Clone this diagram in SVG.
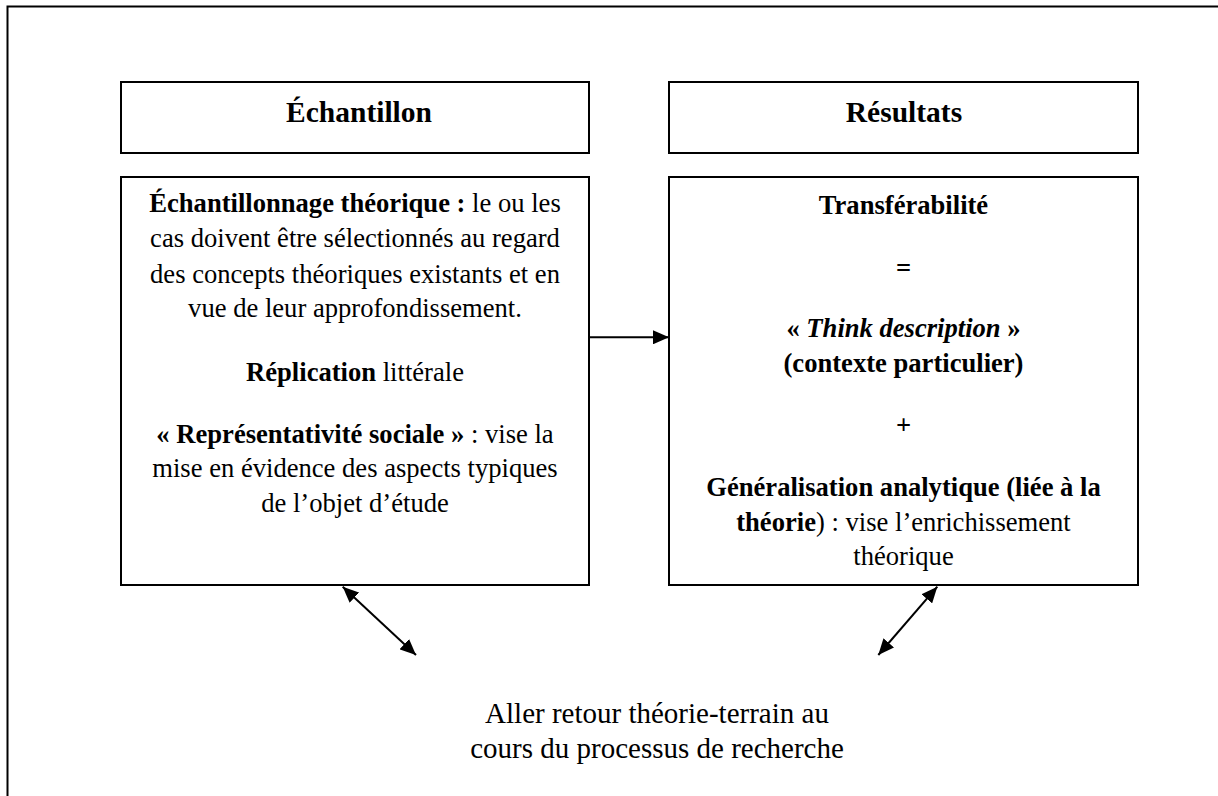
<svg xmlns="http://www.w3.org/2000/svg" width="1218" height="796" viewBox="0 0 1218 796">
<defs>
<style>
.box{fill:#fff;stroke:#000;stroke-width:2}
.frame{fill:none;stroke:#000;stroke-width:2}
.t{font-family:"Liberation Serif","Times New Roman",serif;font-size:26.6px;fill:#000;text-anchor:middle}
.h{font-family:"Liberation Serif","Times New Roman",serif;font-size:29.5px;font-weight:bold;fill:#000;text-anchor:middle}
.f{font-family:"Liberation Serif","Times New Roman",serif;font-size:29px;fill:#000;text-anchor:middle}
.b{font-weight:bold}
.bi{font-weight:bold;font-style:italic}
.c{stroke:#000;stroke-width:2;fill:none}
</style>
<marker id="ah" markerWidth="16" markerHeight="14" refX="16" refY="7" orient="auto-start-reverse" markerUnits="userSpaceOnUse">
<path d="M0,0 L16,7 L0,14 Z" fill="#000"/>
</marker>
</defs>
<rect width="1218" height="796" fill="#fff"/>
<rect class="frame" x="7.5" y="6.5" width="1300" height="900"/>

<g id="echantillon-titre">
<rect class="box" x="121" y="82" width="468" height="71"/>
<text class="h" x="359" y="122">Échantillon</text>
</g>
<g id="resultats-titre">
<rect class="box" x="669" y="82" width="469" height="71"/>
<text class="h" x="904" y="122">Résultats</text>
</g>

<g id="echantillon">
<rect class="box" x="121" y="177" width="468" height="408"/>
<text class="t" x="355" y="212.3"><tspan class="b">Échantillonnage théorique :</tspan> le ou les</text>
<text class="t" x="355" y="247.3">cas doivent être sélectionnés au regard</text>
<text class="t" x="355" y="282.5">des concepts théoriques existants et en</text>
<text class="t" x="355" y="316.7">vue de leur approfondissement.</text>
<text class="t" x="355" y="380.7"><tspan class="b">Réplication</tspan> littérale</text>
<text class="t" x="355" y="442.7"><tspan class="b">« Représentativité sociale »</tspan> : vise la</text>
<text class="t" x="355" y="476.7">mise en évidence des aspects typiques</text>
<text class="t" x="355" y="511.7">de l’objet d’étude</text>
</g>

<g id="resultats">
<rect class="box" x="669" y="177" width="469" height="408"/>
<text class="t b" x="903.5" y="214">Transférabilité</text>
<text class="t b" x="903.5" y="277">=</text>
<text class="t" x="903.5" y="336.7"><tspan class="b">« </tspan><tspan class="bi">Think description</tspan><tspan class="b"> »</tspan></text>
<text class="t b" x="903.5" y="371.7">(contexte particulier)</text>
<text class="t b" x="903.5" y="434">+</text>
<text class="t b" x="903.5" y="496">Généralisation analytique (liée à la</text>
<text class="t" x="903.5" y="531"><tspan class="b">théorie</tspan>) : vise l’enrichissement</text>
<text class="t" x="903.5" y="565">théorique</text>
</g>

<g id="aller-retour">
<text class="f" x="657" y="723.3">Aller retour théorie-terrain au</text>
<text class="f" x="657" y="758.3">cours du processus de recherche</text>
</g>

<g id="connectors">
<line class="c" x1="589" y1="337.3" x2="669" y2="337.3" marker-end="url(#ah)"/>
<line class="c" x1="342.7" y1="586.7" x2="416" y2="655" marker-start="url(#ah)" marker-end="url(#ah)"/>
<line class="c" x1="937.3" y1="586.7" x2="878.3" y2="655" marker-start="url(#ah)" marker-end="url(#ah)"/>
</g>
</svg>
